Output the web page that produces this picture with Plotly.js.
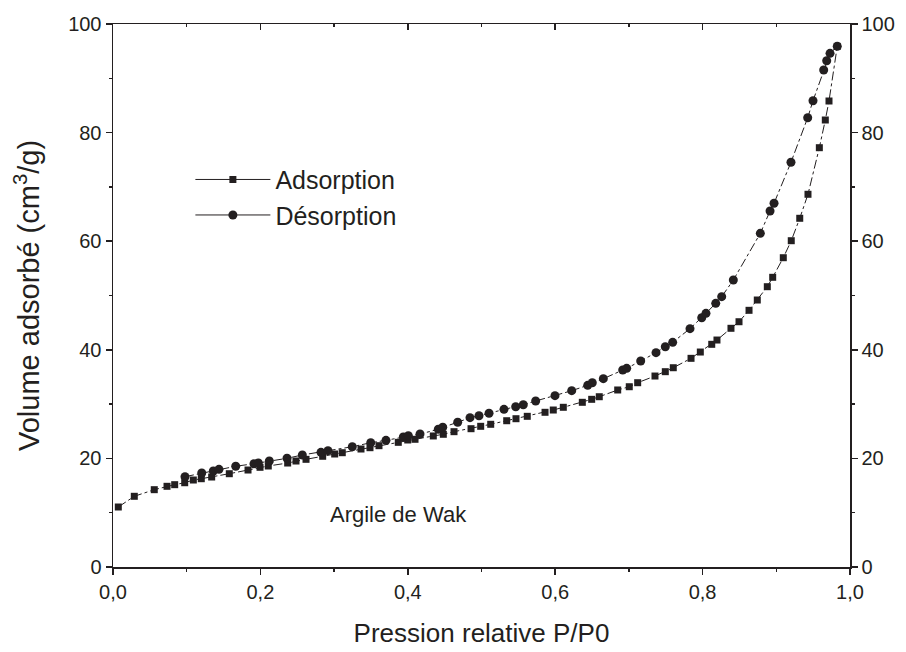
<!DOCTYPE html>
<html>
<head>
<meta charset="utf-8">
<script src="https://cdn.plot.ly/plotly-3.0.1.min.js"></script>
<style>html,body{margin:0;padding:0;background:#fff;}#chart{width:906px;height:652px;}</style>
</head>
<body>
<div id="chart"></div>
<script>
// Adsorption branch
const adsX = [0.0072,0.0289,0.0560,0.0733,0.0837,0.0973,0.1090,0.1198,0.1339,0.1578,0.1832,0.1995,0.2107,0.2370,0.2483,0.2619,0.2845,0.3008,0.3111,0.3365,0.3487,0.3609,0.3871,0.3999,0.4098,0.4346,0.4482,0.4627,0.4858,0.4989,0.5125,0.5342,0.5468,0.5621,0.5862,0.5974,0.6110,0.6368,0.6495,0.6598,0.6848,0.7005,0.7119,0.7354,0.7494,0.7602,0.7843,0.7969,0.8124,0.8195,0.8385,0.8494,0.8630,0.8742,0.8878,0.8951,0.9095,0.9203,0.9318,0.9430,0.9584,0.9665,0.9715,0.9827];
const adsY = [11.05,13.02,14.24,14.86,15.16,15.52,16.02,16.26,16.57,17.18,17.86,18.36,18.60,19.15,19.52,19.83,20.39,20.81,21.05,21.73,21.97,22.34,22.96,23.39,23.52,24.13,24.44,24.92,25.47,25.91,26.28,26.94,27.31,27.75,28.49,28.91,29.41,30.33,30.88,31.36,32.60,33.20,33.94,35.17,35.97,36.70,38.43,39.59,41.01,41.80,43.96,45.17,47.27,49.17,51.62,53.35,56.96,60.09,64.22,68.64,77.22,82.32,85.82,95.89];
// Desorption branch
const desX = [0.0977,0.1204,0.1361,0.1438,0.1665,0.1913,0.1972,0.2121,0.2361,0.2569,0.2822,0.2917,0.3247,0.3497,0.3704,0.3939,0.4007,0.4166,0.4414,0.4474,0.4677,0.4844,0.4966,0.5102,0.5305,0.5464,0.5567,0.5735,0.5997,0.6224,0.6441,0.6503,0.6653,0.6916,0.6970,0.7160,0.7368,0.7494,0.7594,0.7829,0.7988,0.8046,0.8178,0.8259,0.8417,0.8783,0.8915,0.8969,0.9199,0.9426,0.9498,0.9643,0.9684,0.9729,0.9827];
const desY = [16.63,17.31,17.68,17.99,18.55,19.02,19.15,19.52,20.02,20.63,21.12,21.42,22.15,22.89,23.33,23.94,24.18,24.49,25.36,25.73,26.65,27.50,27.86,28.31,29.04,29.52,29.89,30.57,31.55,32.47,33.46,33.94,34.68,36.28,36.59,37.94,39.47,40.57,41.38,43.89,45.91,46.72,48.56,49.78,52.85,61.45,65.56,66.98,74.53,82.74,85.87,91.53,93.24,94.60,95.89];

const seriesNames = ['Adsorption', 'Désorption'];
const xTickVals = [0, 0.2, 0.4, 0.6, 0.8, 1.0];
const xTickText = ['0,0', '0,2', '0,4', '0,6', '0,8', '1,0'];
const yTickVals = [0, 20, 40, 60, 80, 100];
const noteText = 'Argile de Wak';

const ink = '#231f20';
const font = 'Liberation Sans, Arial, sans-serif';

const traces = [
  {x: adsX, y: adsY, type: 'scatter', mode: 'lines+markers', showlegend: false,
   line: {color: ink, width: 1, dash: 'dashdot'},
   marker: {symbol: 'square', size: 7, color: ink}},
  {x: desX, y: desY, type: 'scatter', mode: 'lines+markers', showlegend: false,
   line: {color: ink, width: 1, dash: 'dashdot'},
   marker: {symbol: 'circle', size: 9, color: ink}},
  {x: [null], y: [null], type: 'scatter', mode: 'lines+markers', name: seriesNames[0],
   line: {color: ink, width: 1}, marker: {symbol: 'square', size: 7, color: ink}},
  {x: [null], y: [null], type: 'scatter', mode: 'lines+markers', name: seriesNames[1],
   line: {color: ink, width: 1}, marker: {symbol: 'circle', size: 9, color: ink}},
  {x: [null], y: [null], xaxis: 'x2', yaxis: 'y2', type: 'scatter', mode: 'markers',
   showlegend: false, hoverinfo: 'skip'}
];

const axBase = {
  showgrid: false, zeroline: false, showline: true, linecolor: ink, linewidth: 1.5,
  tickcolor: ink, tickwidth: 1.5, ticklen: 6,
  tickfont: {family: font, size: 20, color: ink}
};

const layout = {
  width: 906, height: 652,
  margin: {l: 113, r: 56, t: 24, b: 85},
  paper_bgcolor: '#fff', plot_bgcolor: '#fff',
  font: {family: font, color: ink},
  xaxis: Object.assign({}, axBase, {
    range: [0, 1], ticks: 'outside', tickvals: xTickVals, ticktext: xTickText,
    minor: {ticks: 'outside', dtick: 0.1, tick0: 0, ticklen: 3, tickcolor: ink, tickwidth: 1.5},
    title: {text: 'Pression relative P/P0', font: {family: font, size: 26, color: ink}, standoff: 22}
  }),
  xaxis2: Object.assign({}, axBase, {
    range: [0, 1], overlaying: 'x', side: 'top', anchor: 'y', ticks: 'inside',
    tickvals: xTickVals, showticklabels: false,
    minor: {ticks: 'inside', dtick: 0.1, tick0: 0, ticklen: 3, tickcolor: ink, tickwidth: 1.5}
  }),
  yaxis: Object.assign({}, axBase, {
    range: [0, 100], ticks: 'outside', tickvals: yTickVals,
    minor: {ticks: 'outside', dtick: 10, tick0: 0, ticklen: 3, tickcolor: ink, tickwidth: 1.5},
    title: {text: 'Volume adsorbé (cm<sup>3</sup>/g)', font: {family: font, size: 29, color: ink}, standoff: 20}
  }),
  yaxis2: Object.assign({}, axBase, {
    range: [0, 100], overlaying: 'y', side: 'right', anchor: 'x', ticks: 'outside', tickvals: yTickVals,
    minor: {ticks: 'outside', dtick: 10, tick0: 0, ticklen: 3, tickcolor: ink, tickwidth: 1.5}
  }),
  legend: {
    x: 0.105, y: 0.681, xanchor: 'left', yanchor: 'middle',
    bgcolor: 'rgba(0,0,0,0)', itemwidth: 75, tracegroupgap: 0,
    font: {family: font, size: 25, color: ink}
  },
  annotations: [{
    x: 0.387, y: 9.6, xref: 'x', yref: 'y', text: noteText, showarrow: false,
    font: {family: font, size: 22, color: ink}
  }]
};

Plotly.newPlot('chart', traces, layout, {displayModeBar: false, staticPlot: true});
</script>
</body>
</html>
